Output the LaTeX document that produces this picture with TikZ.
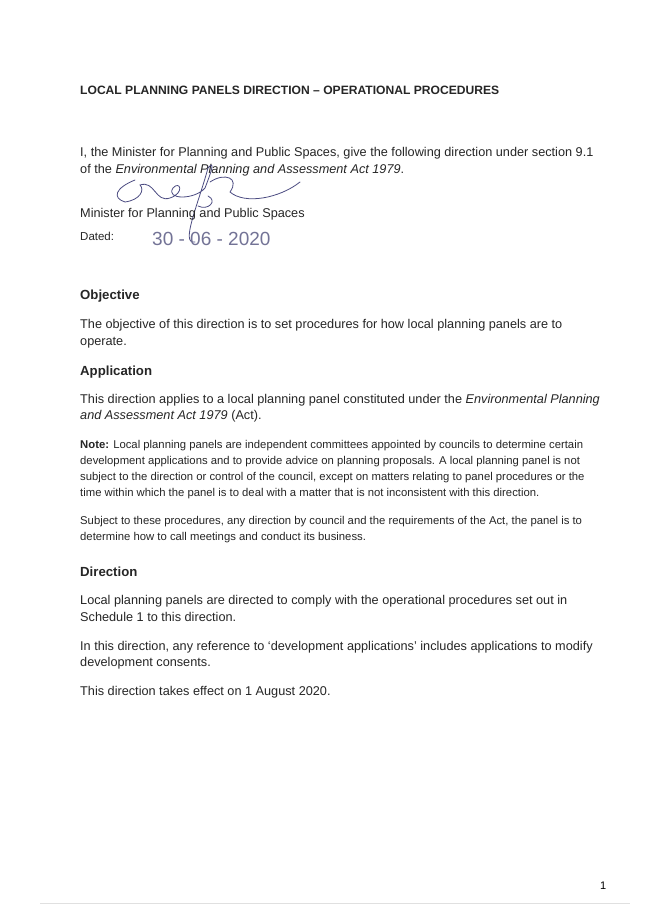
\documentclass[tikz,border=0pt]{standalone}
\usepackage{fontspec}
\setmainfont{Liberation Sans}
\begin{document}
\begin{tikzpicture}[x=1pt,y=-1pt,
  every node/.style={anchor=base west,inner sep=0pt},
  body/.style={font=\fontsize{12.7}{14}\selectfont,text=black!85},
  small/.style={font=\fontsize{11.3}{12}\selectfont,text=black!85},
  head/.style={font=\fontsize{12.1}{14}\selectfont\bfseries,text=black!85},
  sect/.style={font=\fontsize{13.2}{15}\selectfont\bfseries,text=black!85},
  ink/.style={draw=blue!30!black!70,line width=0.8pt,line cap=round}]
\useasboundingbox (0,0) rectangle (653,923);
\fill[white] (0,0) rectangle (653,923);
% title
\node[head] (title) at (80,95) {LOCAL PLANNING PANELS DIRECTION -- OPERATIONAL PROCEDURES};
% preamble
\node[body] (i1) at (80,157) {I, the Minister for Planning and Public Spaces, give the following direction under section 9.1};
\node[body] (i2) at (80,173) {of the \textit{Environmental Planning and Assessment Act 1979}.};
% signature
\draw[ink] (135,180) .. controls (115,188) and (112,198) .. (125,202)
  .. controls (140,200) and (145,190) .. (140,185)
  .. controls (155,180) and (155,203) .. (170,198)
  .. controls (185,193) and (180,180) .. (173,188)
  .. controls (165,200) and (195,200) .. (205,188)
  .. controls (212,170) and (215,160) .. (208,168)
  .. controls (198,205) and (180,245) .. (195,242);
\draw[ink] (210,182) .. controls (225,172) and (240,178) .. (230,192)
  .. controls (245,205) and (280,198) .. (300,182);
\draw[ink] (198,206) .. controls (208,211) and (218,201) .. (208,196);
\node[body] (min) at (80,217) {Minister for Planning and Public Spaces};
\node[body,font=\fontsize{11.5}{13}\selectfont] (dated) at (80,240) {Dated:};
\node[font=\fontsize{19}{20}\selectfont,text=blue!25!black!55] (date) at (152,245) {30 - 06 - 2020};
% objective
\node[sect] (obj) at (80,299) {Objective};
\node[body] (o1) at (80,328) {The objective of this direction is to set procedures for how local planning panels are to};
\node[body] (o2) at (80,345) {operate.};
% application
\node[sect] (app) at (80,375) {Application};
\node[body] (a1) at (80,403) {This direction applies to a local planning panel constituted under the \textit{Environmental Planning}};
\node[body] (a2) at (80,419) {\textit{and Assessment Act 1979} (Act).};
\node[small] (n1) at (80,448) {\textbf{Note:} Local planning panels are independent committees appointed by councils to determine certain};
\node[small] (n2) at (80,464) {development applications and to provide advice on planning proposals. A local planning panel is not};
\node[small] (n3) at (80,480) {subject to the direction or control of the council, except on matters relating to panel procedures or the};
\node[small] (n4) at (80,496) {time within which the panel is to deal with a matter that is not inconsistent with this direction.};
\node[small] (s1) at (80,524) {Subject to these procedures, any direction by council and the requirements of the Act, the panel is to};
\node[small] (s2) at (80,540) {determine how to call meetings and conduct its business.};
% direction
\node[sect] (dir) at (80,576) {Direction};
\node[body] (d1) at (80,604) {Local planning panels are directed to comply with the operational procedures set out in};
\node[body] (d2) at (80,621) {Schedule 1 to this direction.};
\node[body] (d3) at (80,650) {In this direction, any reference to `development applications' includes applications to modify};
\node[body] (d4) at (80,666) {development consents.};
\node[body] (d5) at (80,695) {This direction takes effect on 1 August 2020.};
% footer
\node[font=\fontsize{11}{13}\selectfont] (page) at (600,889) {1};
\draw[black!12] (40,903) -- (630,903);
\end{tikzpicture}
\end{document}
